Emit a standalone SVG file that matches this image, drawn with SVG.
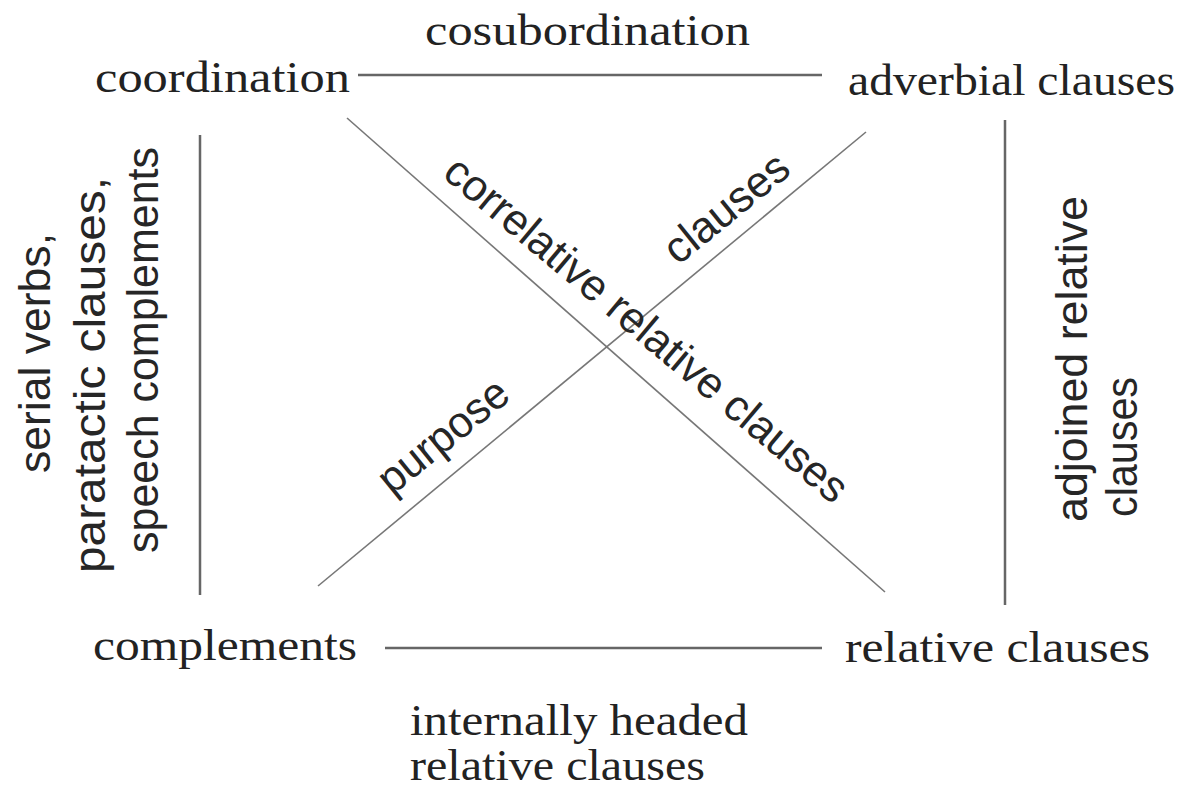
<svg xmlns="http://www.w3.org/2000/svg" width="1195" height="788" viewBox="0 0 1195 788">
<style>
.t{font-family:"Liberation Serif","Times New Roman",serif;font-size:44px;fill:#222}
.r{font-family:"Liberation Sans",Arial,sans-serif;font-size:44px;fill:#262626}
.e{stroke:#666;stroke-width:2.5;fill:none}
.d{stroke:#777;stroke-width:1.6;fill:none}
</style>
<rect width="1195" height="788" fill="#fff"/>
<g id="connectors">
<line class="e" x1="358" y1="75" x2="822" y2="75"/>
<line class="e" x1="385" y1="648" x2="822" y2="648"/>
<line class="e" x1="200" y1="135" x2="200" y2="595"/>
<line class="e" x1="1005" y1="120" x2="1005" y2="605"/>
<line class="d" x1="347" y1="118" x2="885" y2="592"/>
<line class="d" x1="866" y1="132" x2="318" y2="586"/>
</g>
<g id="coordination"><text class="t" x="95" y="92" textLength="255" lengthAdjust="spacingAndGlyphs">coordination</text></g>
<g id="adverbial"><text class="t" x="848" y="95" textLength="327" lengthAdjust="spacingAndGlyphs">adverbial clauses</text></g>
<g id="complements"><text class="t" x="93" y="660" textLength="264" lengthAdjust="spacingAndGlyphs">complements</text></g>
<g id="relative"><text class="t" x="845" y="662" textLength="305" lengthAdjust="spacingAndGlyphs">relative clauses</text></g>
<g id="label-top"><text class="t" x="425" y="45" textLength="325" lengthAdjust="spacingAndGlyphs">cosubordination</text></g>
<g id="label-bottom">
<text class="t" x="410" y="735" textLength="338" lengthAdjust="spacingAndGlyphs">internally headed</text>
<text class="t" x="410" y="780" textLength="295" lengthAdjust="spacingAndGlyphs">relative clauses</text>
</g>
<g id="label-left" text-anchor="middle">
<text class="r" transform="translate(50,353) rotate(-90)" textLength="240" lengthAdjust="spacingAndGlyphs">serial verbs,</text>
<text class="r" transform="translate(105,375) rotate(-90)" textLength="396" lengthAdjust="spacingAndGlyphs">paratactic clauses,</text>
<text class="r" transform="translate(158,350) rotate(-90)" textLength="406" lengthAdjust="spacingAndGlyphs">speech complements</text>
</g>
<g id="label-right">
<text class="r" transform="translate(1087,522) rotate(-90)" textLength="326" lengthAdjust="spacingAndGlyphs">adjoined relative</text>
<text class="r" transform="translate(1137,517) rotate(-90)" textLength="140" lengthAdjust="spacingAndGlyphs">clauses</text>
</g>
<g id="label-diag1">
<text class="r" transform="translate(441,176) rotate(40)" textLength="512" lengthAdjust="spacingAndGlyphs">correlative relative clauses</text>
</g>
<g id="label-diag2">
<text class="r" transform="translate(392,496) rotate(-39)" textLength="155" lengthAdjust="spacingAndGlyphs">purpose</text>
<text class="r" transform="translate(678,266) rotate(-39)" textLength="148" lengthAdjust="spacingAndGlyphs">clauses</text>
</g>
</svg>
